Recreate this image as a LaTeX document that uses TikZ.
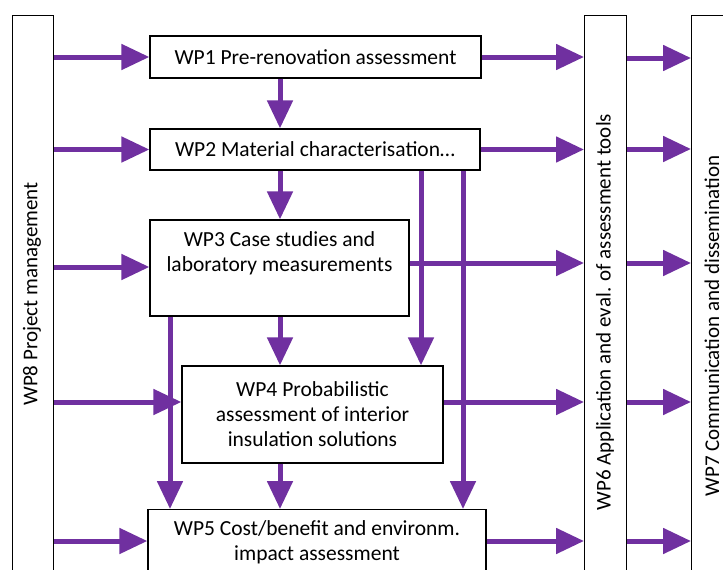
\documentclass[tikz,border=0pt]{standalone}
\usepackage{fontspec}
\setmainfont{Carlito}
\usetikzlibrary{arrows.meta}
\definecolor{wppurple}{HTML}{7030A0}
\tikzset{
  box/.style={draw=black, line width=1.3pt, fill=white, inner sep=0pt, align=center, font=\fontsize{21.5}{25}\selectfont},
  lbl/.style={inner sep=0pt, align=center, font=\fontsize{21.5}{25}\selectfont},
  vlbl/.style={inner sep=0pt, rotate=90, font=\fontsize{21}{25}\selectfont},
  arr/.style={draw=wppurple, line width=5pt, -{Triangle[length=28pt,width=25pt]}}
}
\begin{document}
\begin{tikzpicture}[x=1pt,y=-1pt]
\useasboundingbox (0,0) rectangle (723,570);
\clip (0,0) rectangle (723,570);
\fill[white] (0,0) rectangle (723,570);
% tall boxes
\node[box, minimum width=41pt, minimum height=600pt, anchor=north west] (wp8) at (12,15) {};
\node[box, minimum width=42pt, minimum height=600pt, anchor=north west] (wp6) at (584,15) {};
\node[box, minimum width=80pt, minimum height=600pt, anchor=north west] (wp7) at (691,15) {};
\node[vlbl] (t8) at (32,294) {WP8 Project management};
\node[vlbl] (t6) at (605,312) {WP6 Application and eval. of assessment tools};
\node[vlbl] (t7) at (712,326) {WP7 Communication and dissemination};
% WP boxes
\node[box, minimum width=331pt, minimum height=42pt] (wp1) at (315.5,57) {WP1 Pre-renovation assessment};
\node[box, minimum width=330pt, minimum height=41pt] (wp2) at (315,149.5) {WP2 Material characterisation…};
\node[box, minimum width=259pt, minimum height=96pt] (wp3) at (279.5,268) {};
\node[lbl] (t3) at (279.5,253) {WP3 Case studies and\\laboratory measurements};
\node[box, minimum width=261pt, minimum height=97pt] (wp4) at (312.5,414.5) {WP4 Probabilistic\\assessment of interior\\insulation solutions};
\node[box, minimum width=338pt, minimum height=91pt, anchor=north] (wp5) at (317,509) {};
\node[lbl] (t5) at (317,542) {WP5 Cost/benefit and environm.\\impact assessment};
% WP8 -> boxes
\draw[arr] (wp8.east |- wp1.west) -- (wp1.west);
\draw[arr] (wp8.east |- wp2.west) -- (wp2.west);
\draw[arr] (wp8.east |- 0,267) -- (wp3.west |- 0,267);
\draw[arr] (wp8.east |- 0,402) -- (wp4.west |- 0,402);
\draw[arr] (wp8.east |- 0,541) -- (wp5.west |- 0,541);
% vertical chain
\draw[arr] (wp1.south -| 280,0) -- (wp2.north -| 280,0);
\draw[arr] (wp2.south -| 280,0) -- (wp3.north -| 280,0);
\draw[arr] (wp3.south -| 280,0) -- (wp4.north -| 280,0);
\draw[arr] (wp4.south -| 280,0) -- (wp5.north -| 280,0);
% side verticals
\draw[arr] (wp3.south -| 170,0) -- (wp5.north -| 170,0);
\draw[arr] (wp2.south -| 421,0) -- (wp4.north -| 421,0);
\draw[arr] (wp2.south -| 463,0) -- (wp5.north -| 463,0);
% boxes -> WP6
\draw[arr] (wp1.east) -- (wp6.west |- wp1.east);
\draw[arr] (wp2.east) -- (wp6.west |- wp2.east);
\draw[arr] (wp3.east |- 0,263) -- (wp6.west |- 0,263);
\draw[arr] (wp4.east |- 0,402) -- (wp6.west |- 0,402);
\draw[arr] (wp5.east |- 0,541) -- (wp6.west |- 0,541);
% WP6 -> WP7
\draw[arr] (wp6.east |- 0,58) -- (wp7.west |- 0,58);
\draw[arr] (wp6.east |- 0,149) -- (wp7.west |- 0,149);
\draw[arr] (wp6.east |- 0,263) -- (wp7.west |- 0,263);
\draw[arr] (wp6.east |- 0,402) -- (wp7.west |- 0,402);
\draw[arr] (wp6.east |- 0,541) -- (wp7.west |- 0,541);
\end{tikzpicture}
\end{document}
